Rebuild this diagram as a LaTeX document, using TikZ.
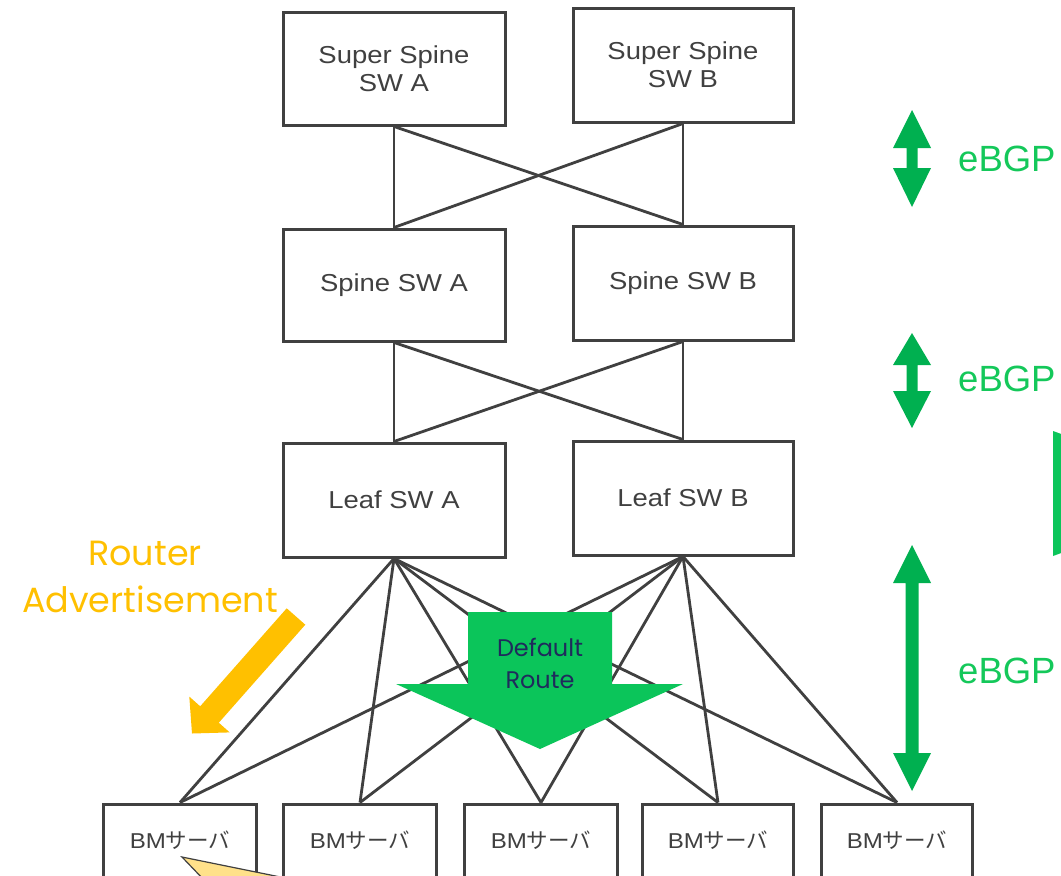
\documentclass[tikz,border=0pt]{standalone}
\usepackage{fontspec}
\newfontfamily\boxfont{Liberation Sans}[FakeStretch=1.12]
\newfontfamily\bgpfont{Liberation Sans}
\newfontfamily\cjk{Noto Sans CJK JP}
\newfontfamily\popfont{Poppins}
\definecolor{linegray}{HTML}{404040}
\definecolor{bgpdark}{HTML}{00B050}
\definecolor{bgptext}{HTML}{14C85A}
\definecolor{drgreen}{HTML}{0BC55A}
\definecolor{ragold}{HTML}{FFC000}
\definecolor{drnavy}{HTML}{1F2B5C}
\definecolor{calloutfill}{HTML}{FFE18A}
\tikzset{
  swbox/.style={draw=linegray, line width=3pt, fill=white, minimum width=222pt, minimum height=113pt, inner sep=0pt, align=center, text=linegray, font=\boxfont\fontsize{24.5}{28}\selectfont},
  bmbox/.style={draw=linegray, line width=3pt, fill=white, minimum width=153pt, minimum height=100pt, inner sep=0pt},
  bmtext/.style={text=linegray, inner sep=0pt, font=\boxfont\fontsize{21.5}{24}\selectfont},
  link/.style={draw=linegray, line width=2.8pt},
  bgparrow/.style={fill=bgpdark},
  bgplabel/.style={text=bgptext, inner sep=0pt, anchor=base west, font=\bgpfont\fontsize{36.5}{40}\selectfont},
  ralabel/.style={text=ragold, inner sep=0pt, anchor=base, font=\popfont\fontsize{35}{40}\selectfont},
  drlabel/.style={text=drnavy, inner sep=0pt, anchor=base, font=\popfont\fontsize{24}{28}\selectfont},
}
\newcommand\dbarrow[6]{%
  \fill[bgparrow] (#1,#2) -- (#1+19,#3) -- (#1+#6,#3) -- (#1+#6,#4) -- (#1+19,#4) -- (#1,#5)
    -- (#1-19,#4) -- (#1-#6,#4) -- (#1-#6,#3) -- (#1-19,#3) -- cycle;}
\begin{document}
\begin{tikzpicture}[x=1pt,y=-1pt]
\useasboundingbox (0,0) rectangle (1061,876);
\fill[white] (0,0) rectangle (1061,876);
\begin{scope}
\clip (0,0) rectangle (1061,876);

% connectors
\coordinate (dummy) at (0,0);

% switch boxes
\node[swbox, minimum height=113pt] (ssa) at (394,68.5) {Super Spine\\SW A};
\node[swbox, minimum width=220pt, minimum height=114pt] (ssb) at (683,65) {Super Spine\\SW B};
\node[swbox, minimum height=112pt] (sa) at (394,285) {Spine SW A};
\node[swbox, minimum width=220pt, minimum height=114pt] (sb) at (683,283) {Spine SW B};
\node[swbox, minimum height=114pt] (la) at (394,500) {Leaf SW A};
\node[swbox, minimum width=220pt, minimum height=114pt] (lb) at (683,498) {Leaf SW B};

% BM server boxes
\node[bmbox] (bm1) at (180,854) {};
\node[bmbox] (bm2) at (360,854) {};
\node[bmbox] (bm3) at (541,854) {};
\node[bmbox, minimum width=151pt] (bm4) at (718,854) {};
\node[bmbox, minimum width=151pt] (bm5) at (897,854) {};
\node[bmtext] (bm1t) at (180,840) {BM{\cjk サーバ}};
\node[bmtext] (bm2t) at (360,840) {BM{\cjk サーバ}};
\node[bmtext] (bm3t) at (541,840) {BM{\cjk サーバ}};
\node[bmtext] (bm4t) at (718,840) {BM{\cjk サーバ}};
\node[bmtext] (bm5t) at (897,840) {BM{\cjk サーバ}};

% connectors
\draw[link] (ssa.south) -- (sa.north);
\draw[link] (ssa.south) -- (sb.north);
\draw[link] (ssb.south) -- (sb.north);
\draw[link] (ssb.south) -- (sa.north);
\draw[link] (sa.south) -- (la.north);
\draw[link] (sa.south) -- (lb.north);
\draw[link] (sb.south) -- (lb.north);
\draw[link] (sb.south) -- (la.north);
\foreach \b in {bm1,bm2,bm3,bm4,bm5}{
  \draw[link] (la.south) -- (\b.north);
  \draw[link] (lb.south) -- (\b.north);
}

% default route arrow
\fill[drgreen] (468,612) -- (612,612) -- (612,684) -- (683,684) -- (540,749) -- (396,684) -- (468,684) -- cycle;
\node[drlabel] (dr1) at (540,656) {Default};
\node[drlabel] (dr2) at (540,688) {Route};

% router advertisement arrow
\fill[ragold] (286.7,608.3) -- (305.3,624.7) -- (218.8,722.7) -- (229.7,732.4) -- (192,733.5) -- (189.3,696.6) -- (200.2,706.3) -- cycle;
\node[ralabel] (ra1) at (145,565) {Router};
\node[ralabel] (ra2) at (150,612) {Advertisement};

% callout pointer
\filldraw[fill=calloutfill, draw=linegray, line width=1.2pt] (182,857) -- (300,881) -- (205,881) -- cycle;

% eBGP arrows
\dbarrow{912}{110}{148}{168}{207}{5.5}
\dbarrow{912}{333}{365}{391}{428}{5.5}
\dbarrow{912}{545}{583}{753}{791}{6.5}
\node[bgplabel] (bgp1) at (958,171) {eBGP};
\node[bgplabel] (bgp2) at (958,391) {eBGP};
\node[bgplabel] (bgp3) at (958,683) {eBGP};

% partial green shape at right edge
\fill[drgreen] (1053,431) -- (1075,439) -- (1075,548) -- (1053,556) -- cycle;
\end{scope}
\end{tikzpicture}
\end{document}
